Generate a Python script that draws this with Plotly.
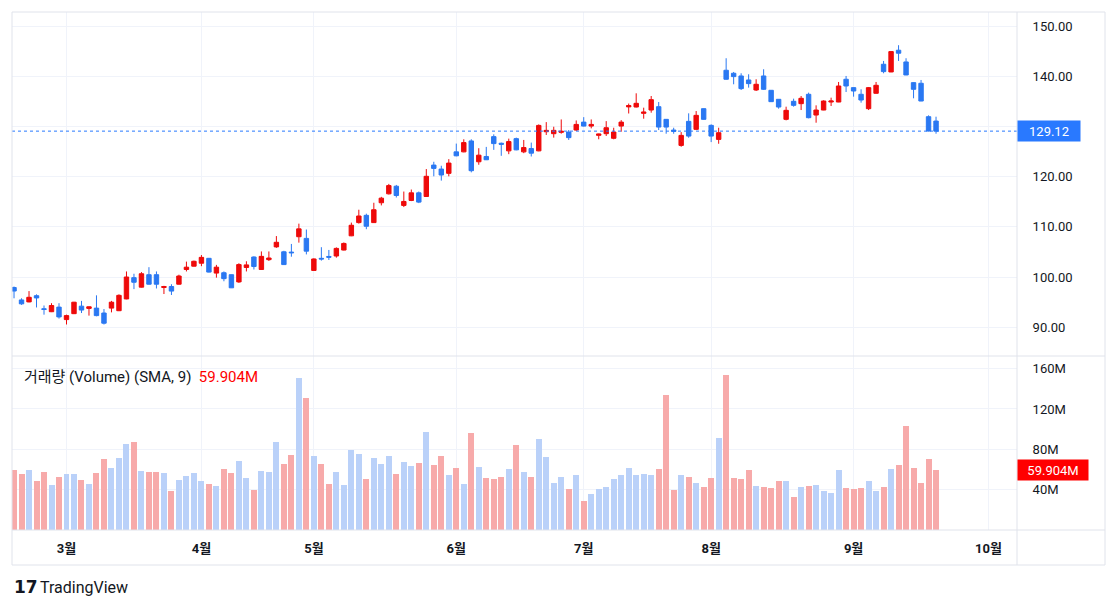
import plotly.graph_objects as go

# ---------------- data ----------------
months = ["3월", "4월", "5월", "6월", "7월", "8월", "9월", "10월"]
month_idx = [7, 25, 40, 59, 76, 93, 112, 130]

opens = [97.9, 95.42, 95.03, 96.27, 93.66, 93.07, 93.99, 91.5, 92.68, 94.18,
         93.73, 93.79, 92.81, 93.79, 93.27, 95.62, 99.87, 97.97, 100.46, 100.46,
         97.9, 98.1, 98.56, 101.5, 102.16, 102.75, 103.73, 100.78, 100.85, 100.46,
         99.02, 101.9, 103.99, 101.5, 103.46, 106.01, 105.03, 104.97, 108.04, 107.71,
         101.31, 103.73, 104.1, 104.19, 105.38, 108.22, 110.86, 112.31, 110.86, 114.82,
         116.6, 118.12, 114.29, 115.28, 116.8, 116.07, 122.34, 121.55, 120.69, 124.98,
         124.98, 127.16, 123.0, 124.06, 128.02, 126.7, 125.18, 127.62, 124.98, 125.64,
         125.18, 129.0, 128.61, 128.88, 128.94, 129.34, 130.92, 130.13, 128.28, 128.61,
         127.69, 130.13, 133.96, 133.93, 132.67, 133.33, 134.0, 131.47, 129.33, 126.27,
         131.07, 129.47, 133.6, 130.27, 127.47, 141.27, 140.67, 140.13, 139.33, 137.33,
         140.13, 137.27, 135.47, 131.47, 135.07, 134.6, 136.47, 132.33, 133.33, 134.93,
         134.93, 139.47, 137.8, 136.47, 133.6, 136.67, 142.47, 140.93, 145.27, 142.93,
         138.8, 138.67, 132.0, 131.13]
highs = [98.1, 95.75, 97.19, 96.54, 94.31, 94.77, 94.77, 92.48, 95.03, 95.23,
         94.1, 96.34, 93.6, 95.23, 96.54, 101.11, 100.65, 100.98, 101.96, 101.11,
         98.24, 98.56, 100.46, 103.07, 103.27, 104.38, 103.8, 102.42, 101.11, 100.5,
         102.75, 103.14, 104.12, 105.1, 105.1, 108.17, 105.23, 106.6, 110.65, 109.48,
         103.73, 105.95, 105.4, 105.91, 106.9, 110.86, 113.43, 112.64, 114.82, 116.0,
         118.58, 118.38, 117.06, 117.46, 117.06, 121.55, 123.0, 122.21, 123.53, 126.63,
         127.49, 127.49, 125.71, 125.97, 128.48, 126.83, 127.62, 127.82, 127.36, 126.83,
         130.46, 130.92, 130.0, 131.45, 129.34, 131.25, 131.91, 131.45, 128.61, 131.12,
         129.8, 131.32, 134.62, 136.67, 133.8, 136.13, 134.93, 131.5, 129.8, 128.93,
         132.67, 133.13, 133.65, 130.47, 129.8, 143.67, 140.93, 140.67, 140.47, 139.47,
         141.47, 137.3, 135.5, 134.0, 135.6, 136.13, 136.8, 134.27, 135.27, 135.8,
         138.93, 140.13, 137.85, 137.47, 137.93, 138.93, 143.13, 145.0, 146.27, 143.67,
         138.85, 139.33, 132.27, 132.0]
lows = [95.75, 94.44, 94.95, 93.92, 92.48, 93.0, 91.7, 90.52, 92.6, 92.81,
        92.29, 92.16, 90.52, 92.94, 93.2, 95.56, 97.58, 97.9, 98.5, 97.71,
        96.6, 96.41, 98.5, 101.11, 102.1, 102.16, 100.9, 99.87, 99.15, 97.8,
        98.82, 101.11, 101.5, 101.45, 103.2, 105.82, 102.4, 104.05, 106.86, 104.51,
        101.25, 103.27, 103.4, 103.86, 105.3, 108.15, 110.66, 109.54, 110.8, 114.29,
        116.47, 115.87, 113.96, 115.15, 114.75, 116.0, 120.1, 119.24, 120.1, 124.1,
        124.9, 120.89, 122.41, 123.35, 125.38, 124.19, 124.52, 125.3, 124.72, 124.06,
        125.1, 128.35, 127.82, 128.61, 127.36, 129.14, 130.05, 129.67, 127.49, 128.15,
        127.49, 129.0, 132.64, 133.85, 131.6, 132.8, 129.33, 128.6, 128.6, 126.0,
        127.8, 129.33, 131.4, 126.93, 126.6, 139.4, 138.47, 137.33, 137.8, 137.13,
        137.33, 134.95, 133.6, 131.27, 134.0, 133.33, 131.67, 130.8, 133.3, 134.13,
        134.9, 136.93, 136.0, 134.8, 133.33, 136.6, 140.67, 140.9, 143.13, 140.3,
        135.67, 135.1, 129.07, 128.6]
closes = [97.2, 94.64, 95.95, 95.82, 93.53, 94.31, 92.03, 92.29, 94.97, 93.4,
          94.05, 92.29, 90.78, 94.97, 96.34, 100.0, 98.95, 100.65, 98.56, 98.56,
          98.1, 97.19, 100.2, 101.96, 103.14, 103.92, 100.98, 101.96, 99.67, 97.84,
          102.48, 102.42, 102.09, 104.12, 103.79, 106.93, 102.48, 104.84, 109.61, 105.16,
          103.6, 103.6, 103.95, 105.71, 106.7, 110.33, 112.18, 110.13, 113.43, 115.74,
          118.25, 116.27, 115.08, 116.8, 114.95, 120.1, 121.68, 120.36, 122.74, 124.19,
          126.83, 121.22, 124.32, 123.4, 126.63, 126.5, 127.03, 125.38, 125.84, 124.72,
          130.26, 129.27, 129.27, 129.08, 127.82, 130.46, 130.13, 130.46, 128.55, 129.8,
          128.94, 130.92, 134.22, 134.67, 132.93, 135.4, 129.93, 129.93, 129.07, 128.27,
          128.13, 132.27, 131.47, 128.13, 128.8, 139.47, 140.0, 137.6, 138.6, 138.47,
          137.47, 135.0, 133.93, 133.27, 134.27, 135.67, 131.8, 133.33, 135.13, 135.13,
          138.13, 138.13, 137.13, 135.33, 137.8, 138.27, 141.0, 145.0, 144.67, 140.33,
          137.47, 135.13, 129.13, 129.12]
volumes_m = [59.9, 56.0, 59.3, 48.3, 57.3, 44.4, 52.3, 55.3, 55.3, 49.3,
             45.4, 56.3, 70.2, 61.3, 71.2, 85.1, 87.1, 58.3, 57.3, 57.3,
             56.3, 38.4, 49.3, 53.3, 56.3, 48.3, 45.4, 43.4, 60.3, 56.3,
             68.2, 51.3, 39.4, 58.3, 57.3, 87.1, 65.2, 74.2, 150.7, 130.8,
             73.2, 65.2, 45.4, 57.3, 44.4, 79.1, 75.2, 50.3, 71.2, 65.2,
             73.2, 55.3, 67.2, 63.2, 66.2, 97.0, 64.2, 73.2, 54.3, 61.3,
             45.4, 96.2, 62.3, 51.3, 50.3, 52.3, 60.3, 84.1, 57.3, 52.3,
             90.1, 72.2, 46.4, 52.3, 40.4, 54.3, 28.5, 35.4, 40.4, 42.4,
             50.3, 54.3, 61.3, 54.3, 55.3, 54.3, 60.3, 133.8, 39.4, 54.3,
             52.3, 46.4, 42.4, 51.3, 91.1, 153.6, 51.3, 50.3, 59.3, 43.4,
             42.4, 41.4, 48.3, 48.3, 32.5, 42.4, 43.4, 44.4, 38.4, 36.4,
             59.3, 41.4, 40.4, 41.4, 48.3, 38.4, 42.4, 60.3, 64.2, 103.0,
             61.3, 46.4, 70.2, 59.904]
price_ticks = [90, 100, 110, 120, 130, 140, 150]
volume_ticks = [40, 80, 120, 160]
last_price = 129.12
last_volume = 59.904
legend_label = "거래량 (Volume) (SMA, 9)"

# ---------------- style ----------------
RED = "#EE0A0A"
BLUE = "#2A78F2"
VOL_DOWN = "#F7AAAA"
VOL_UP = "#BAD1F9"
GRID = "#F0F3FA"
BORDER = "#E0E3EB"
TXT = "#131722"
FONT = "Roboto, 'Noto Sans CJK KR', sans-serif"

idx = list(range(len(closes)))
vol_colors = [VOL_UP if c >= o else VOL_DOWN for o, c in zip(opens, closes)]

fig = go.Figure()
fig.add_trace(go.Candlestick(
    x=idx, open=opens, high=highs, low=lows, close=closes,
    increasing=dict(line=dict(color=RED, width=1), fillcolor=RED),
    decreasing=dict(line=dict(color=BLUE, width=1), fillcolor=BLUE),
    whiskerwidth=0, yaxis="y", xaxis="x", showlegend=False, hoverinfo="skip",
))
fig.add_trace(go.Bar(
    x=idx, y=volumes_m, marker=dict(color=vol_colors, line=dict(width=0)),
    width=0.8, yaxis="y2", xaxis="x", showlegend=False, hoverinfo="skip",
))

# page body has an 8px margin: compensate so that the plot lands on screen pixels
OFF = 8
W_L, W_R, H_T, H_B = 12, 1017, 12, 530   # plot area in screen pixels
FIG_W, FIG_H = 1102, 593
pw, ph = W_R - W_L, H_B - H_T
def px_x(px):
    return (px - W_L) / pw
def px_y(py):
    return (H_B - py) / ph

split = px_y(356)

fig.update_layout(
    width=FIG_W, height=FIG_H,
    margin=dict(l=W_L - OFF, r=FIG_W + OFF - W_R, t=H_T - OFF, b=FIG_H + OFF - H_B,
                autoexpand=False),
    paper_bgcolor="white", plot_bgcolor="white",
    font=dict(family=FONT, color=TXT, size=13),
    boxgap=0.16,
    bargap=0,
    xaxis=dict(
        anchor="y2",
        range=[-0.27, 133.8], showgrid=True, gridcolor=GRID, gridwidth=1,
        tickmode="array", tickvals=month_idx, ticktext=months,
        tickfont=dict(size=13, color=TXT, weight="bold"),
        ticks="outside", ticklen=6, tickcolor="rgba(0,0,0,0)",
        zeroline=False, showline=False, rangeslider=dict(visible=False),
        fixedrange=True,
    ),
    yaxis=dict(
        domain=[split, 1], range=[84.23, 152.9], side="right", anchor="x",
        tickmode="array", tickvals=price_ticks,
        ticktext=["" if abs(v - last_price) < 4 else f"{v:.2f}" for v in price_ticks],
        showgrid=True, gridcolor=GRID, zeroline=False, showline=False,
        ticks="outside", ticklen=12, tickcolor="rgba(0,0,0,0)",
        tickfont=dict(size=13, color=TXT),
    ),
    yaxis2=dict(
        domain=[0, split], range=[0, 172.5], side="right", anchor="x",
        tickmode="array", tickvals=volume_ticks,
        ticktext=[f"{v}M" for v in volume_ticks],
        showgrid=True, gridcolor=GRID, zeroline=False, showline=False,
        ticks="outside", ticklen=12, tickcolor="rgba(0,0,0,0)",
        tickfont=dict(size=13, color=TXT),
    ),
)

shapes = []
shapes.append(dict(type="line", xref="paper", yref="y", x0=0, x1=1,
                   y0=last_price, y1=last_price,
                   line=dict(color="#2979FF", width=1, dash="dot")))
x_right = px_x(1105)
y_bottom = px_y(565)
shapes.append(dict(type="rect", xref="paper", yref="paper", x0=0, x1=x_right,
                   y0=y_bottom, y1=1, line=dict(color=BORDER, width=1), layer="above"))
shapes.append(dict(type="line", xref="paper", yref="paper", x0=0, x1=x_right,
                   y0=split, y1=split, line=dict(color=BORDER, width=1)))
shapes.append(dict(type="line", xref="paper", yref="paper", x0=0, x1=x_right,
                   y0=0, y1=0, line=dict(color=BORDER, width=1)))
shapes.append(dict(type="line", xref="paper", yref="paper", x0=1, x1=1,
                   y0=y_bottom, y1=1, line=dict(color=BORDER, width=1)))
fig.update_layout(shapes=shapes)

annotations = [
    dict(xref="paper", yref="y", x=1, y=last_price, xanchor="left", yanchor="middle",
         text=f"{last_price:.2f}", showarrow=False, bgcolor="#2979FF",
         font=dict(color="white", size=13), width=60, height=18, align="center",
         borderpad=1),
    dict(xref="paper", yref="y2", x=1, y=last_volume, xanchor="left", yanchor="middle",
         text=f"{last_volume:.3f}M", showarrow=False, bgcolor="#FF0000",
         font=dict(color="white", size=13), width=68, height=18, align="center",
         borderpad=1),
    dict(xref="paper", yref="paper", x=px_x(22), y=px_y(377), xanchor="left",
         yanchor="middle", showarrow=False,
         text=f"{legend_label}  <span style='color:#FF0000'>{last_volume:.3f}M</span>",
         font=dict(size=15, color=TXT)),
    dict(xref="paper", yref="paper", x=px_x(12), y=px_y(587), xanchor="left",
         yanchor="middle", showarrow=False, text="<b>17</b>",
         font=dict(size=17, color=TXT, family="DejaVu Sans")),
    dict(xref="paper", yref="paper", x=px_x(38), y=px_y(587), xanchor="left",
         yanchor="middle", showarrow=False, text="TradingView",
         font=dict(size=16, color=TXT)),
]
fig.update_layout(annotations=annotations)

fig.write_html("out.html")
